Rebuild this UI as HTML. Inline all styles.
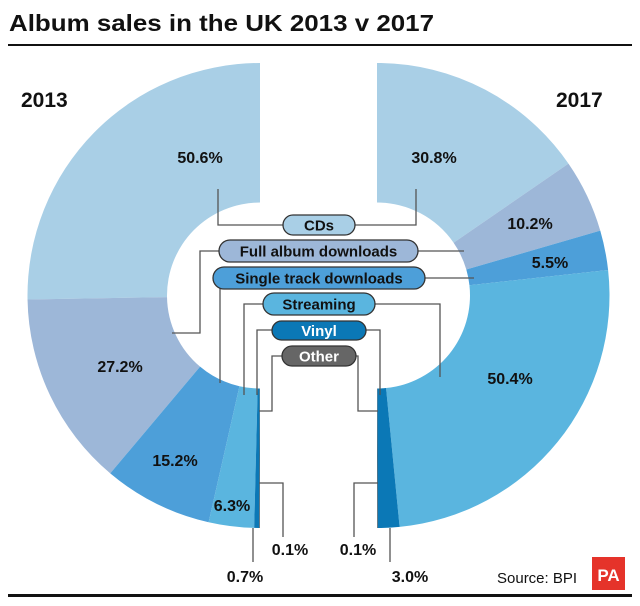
<!DOCTYPE html>
<html><head><meta charset="utf-8"><style>
body{margin:0;background:#fff;width:640px;height:601px;overflow:hidden;font-family:"Liberation Sans",sans-serif}
svg text{font-family:"Liberation Sans",sans-serif}
</style></head><body>
<svg id="chart" width="640" height="601" viewBox="0 0 640 601" xmlns="http://www.w3.org/2000/svg">
<text x="9" y="31" font-size="23" font-weight="bold" fill="#111" textLength="425" lengthAdjust="spacingAndGlyphs">Album sales in the UK 2013 v 2017</text>
<rect x="8" y="44" width="624" height="2" fill="#111"/>
<g id="arcs"></g>
<g id="lines" stroke="#555" stroke-width="1.3" fill="none"></g>
<g id="pills"></g>
<g id="vals"></g>
<text x="21" y="107" font-size="21" font-weight="bold" fill="#111">2013</text>
<text x="556" y="107" font-size="21" font-weight="bold" fill="#111">2017</text>
<text x="497" y="583" font-size="15" fill="#111">Source: BPI</text>
<rect x="592" y="557" width="33" height="33" fill="#e5332a"/>
<text x="608.5" y="581" font-size="17" font-weight="bold" fill="#fff" text-anchor="middle">PA</text>
<rect x="8" y="594" width="624" height="3" fill="#111"/>
</svg>
<script>
const categories=["CDs","Full album downloads","Single track downloads","Streaming","Vinyl","Other"];
const values2013=[50.6,27.2,15.2,6.3,0.7,0.1];
const values2017=[30.8,10.2,5.5,50.4,3.0,0.1];
const labels2013=["50.6%","27.2%","15.2%","6.3%","0.7%","0.1%"];
const labels2017=["30.8%","10.2%","5.5%","50.4%","3.0%","0.1%"];
const colors=["#a9cfe6","#9db7d8","#4d9fd9","#5ab5df","#0b78b6","#666666"];
const NS="http://www.w3.org/2000/svg";
const cy=295.5,R=232.5,r=93,cxL=260,cxR=377;
function mk(tag,attrs,parent){const e=document.createElementNS(NS,tag);for(const k in attrs)e.setAttribute(k,attrs[k]);document.getElementById(parent).appendChild(e);return e;}
function pt(cx,dir,rad,deg){const a=deg*Math.PI/180;return [cx+dir*rad*Math.sin(a),cy-rad*Math.cos(a)];}
function drawHalf(vals,cx,dir,year){
  const tot=vals.reduce((a,b)=>a+b,0);let acc=0;
  vals.forEach((v,i)=>{
    const a0=acc/tot*180,a1=(acc+v)/tot*180;acc+=v;
    const p0=pt(cx,dir,R,a0),p1=pt(cx,dir,R,a1),q1=pt(cx,dir,r,a1),q0=pt(cx,dir,r,a0);
    const sw=dir<0?0:1,sw2=dir<0?1:0,lg=(a1-a0)>180?1:0;
    const d=`M${p0[0]},${p0[1]}A${R},${R} 0 ${lg} ${sw} ${p1[0]},${p1[1]}L${q1[0]},${q1[1]}A${r},${r} 0 ${lg} ${sw2} ${q0[0]},${q0[1]}Z`;
    const el=mk('path',{d:d,fill:colors[i]},'arcs');
    
    
  });
}
drawHalf(values2013,cxL,-1,'2013');
drawHalf(values2017,cxR,1,'2017');
const lines=[
 "M283,225H218V189","M355,225H416V189",
 "M219,251H200V333H172","M418,251H464",
 "M220,280V383","M425,278H474",
 "M263,304H244V395","M375,304H440V377",
 "M272,330H257V395","M366,330H380V395",
 "M282,356H272V411H259","M356,356H358V411H378",
 "M259,483H283V537","M253,528V562","M378,483H354V537","M390,528V562"];
lines.forEach((d,i)=>{const e=mk('path',{d:d},'lines');
 
 });
const pillBoxes=[[283,215,72,20],[219,240,199,22],[213,267,212,22],[263,293,112,22],[272,321,94,19],[282,346,74,20]];
const pillText=["#111","#111","#111","#111","#fff","#fff"];
categories.forEach((c,i)=>{const b=pillBoxes[i];
 const rc=mk('rect',{x:b[0],y:b[1],width:b[2],height:b[3],rx:b[3]/2,fill:colors[i],stroke:"#333","stroke-width":1.3},'pills');
 
 
 const t=mk('text',{x:b[0]+b[2]/2,y:b[1]+b[3]/2+5.5,"font-size":15,"font-weight":"bold",fill:pillText[i],"text-anchor":"middle"},'pills');
 t.textContent=c;
 
 
});
const pos2013=[[200,163],[120,372],[175,466],[232,511],[245,582],[290,555]];
const pos2017=[[434,163],[530,229],[550,268],[510,384],[410,582],[358,555]];
function vl(lbls,pos,year){lbls.forEach((l,i)=>{const t=mk('text',{x:pos[i][0],y:pos[i][1],"font-size":16,"font-weight":"bold",fill:"#111","text-anchor":"middle"},'vals');
 t.textContent=l;
 
 });}
vl(labels2013,pos2013,'2013');vl(labels2017,pos2017,'2017');
</script>
</body></html>
